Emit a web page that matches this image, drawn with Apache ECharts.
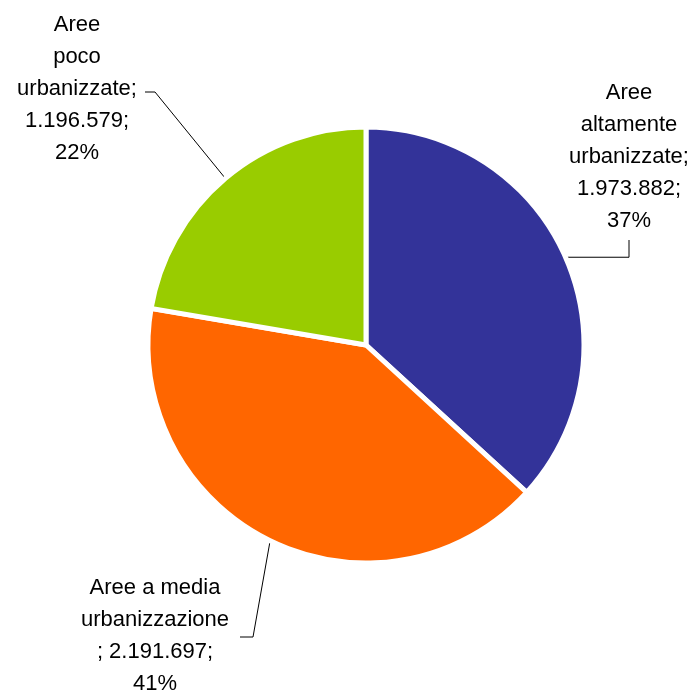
<!DOCTYPE html>
<html>
<head>
<meta charset="utf-8">
<script src="https://cdn.jsdelivr.net/npm/echarts@6/dist/echarts.min.js"></script>
<style>
html,body{margin:0;padding:0;background:#fff;}
#c{width:697px;height:691px;}
</style>
</head>
<body>
<div id="c"></div>
<script>
// Data
const categories = ['Aree altamente urbanizzate', 'Aree a media urbanizzazione', 'Aree poco urbanizzate'];
const values = [1973882, 2191697, 1196579];
const percents = ['37%', '41%', '22%'];
const labelLines = [
  ['Aree', 'altamente', 'urbanizzate;', '{v};', '{p}'],
  ['Aree a media', 'urbanizzazione', '; {v};', '{p}'],
  ['Aree', 'poco', 'urbanizzate;', '{v};', '{p}']
];
const colors = ['#333399', '#FF6600', '#99CC00'];

// Label placement (text center x, top y)
const labelPos = [
  { x: 629, y: 77 },
  { x: 155, y: 572 },
  { x: 77, y: 9 }
];

function fmt(n) {
  return String(n).replace(/\B(?=(\d{3})+(?!\d))/g, '.');
}

const chart = echarts.init(document.getElementById('c'), null, { renderer: 'canvas' });

const data = categories.map((name, i) => ({
  name: name,
  value: values[i],
  itemStyle: { color: colors[i] }
}));

chart.setOption({
  animation: false,
  backgroundColor: '#ffffff',
  series: [{
    type: 'pie',
    center: [366, 345],
    radius: [0, 218],
    startAngle: 90,
    clockwise: true,
    selectedMode: false,
    avoidLabelOverlap: false,
    data: data,
    itemStyle: { borderWidth: 5, borderColor: '#ffffff', borderJoin: 'miter' },
    emphasis: { disabled: true },
    label: {
      show: true,
      position: 'outside',
      color: '#000',
      fontFamily: 'Liberation Sans, Arial, sans-serif',
      fontSize: 22,
      lineHeight: 32,
      align: 'center',
      formatter: function (p) {
        const i = p.dataIndex;
        return labelLines[i].map(s => s.replace('{v}', fmt(values[i])).replace('{p}', percents[i])).join('\n');
      }
    },
    labelLine: {
      show: true,
      length: 10,
      length2: 10,
      lineStyle: { color: '#000', width: 1 }
    },
    labelLayout: function (params) {
      const i = params.dataIndex;
      const pos = labelPos[i];
      const p0 = params.labelLinePoints ? params.labelLinePoints[0] : [0, 0];
      let pts;
      if (i === 0) {
        pts = [p0, [629, p0[1]], [629, 240]];
      } else if (i === 1) {
        pts = [p0, [253, 637], [240, 637]];
      } else {
        pts = [p0, [155, 92], [145, 92]];
      }
      return {
        x: pos.x,
        y: pos.y,
        align: 'center',
        verticalAlign: 'top',
        labelLinePoints: pts
      };
    }
  }]
});
</script>
</body>
</html>
